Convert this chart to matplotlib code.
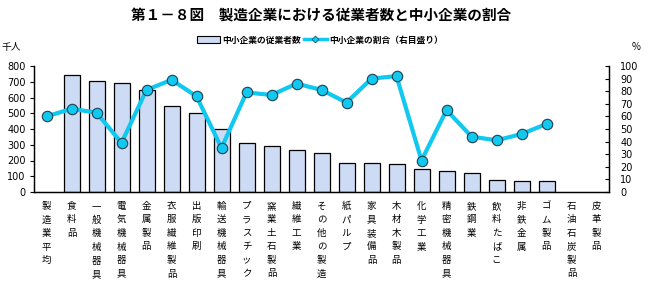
import matplotlib
matplotlib.use("Agg")
import matplotlib.pyplot as plt
from matplotlib.lines import Line2D
from matplotlib.patches import Patch
import numpy as np

plt.rcParams['font.family'] = ['Noto Sans CJK JP', 'DejaVu Sans']

categories = ["製造業平均", "食料品", "一般機械器具", "電気機械器具", "金属製品", "衣服繊維製品",
              "出版印刷", "輸送機械器具", "プラスチック", "窯業土石製品", "繊維工業", "その他の製造",
              "紙パルプ", "家具装備品", "木材木製品", "化学工業", "精密機械器具", "鉄鋼業",
              "飲料たばこ", "非鉄金属", "ゴム製品", "石油石炭製品", "皮革製品"]
employees = [np.nan, 745, 703, 694, 646, 544, 500, 398, 314, 290, 265, 250,
             187, 187, 180, 148, 136, 119, 78, 72, 72, np.nan, np.nan]
sme_share = [60, 66, 63, 39, 81, 89, 76, 35, 79, 77, 86, 81,
             71, 90, 92, 25, 65, 44, 41, 46, 54, np.nan, np.nan]
left_ticks = list(range(0, 801, 100))
right_ticks = list(range(0, 101, 10))

title = "第１－８図　製造企業における従業者数と中小企業の割合"
bar_label = "中小企業の従業者数"
line_label = "中小企業の割合（右目盛り）"

W, H = 645, 287
fig = plt.figure(figsize=(W/100, H/100), dpi=100)
ax = fig.add_axes([34/W, (H-192)/H, (609-34)/W, (192-66)/H])
ax2 = ax.twinx()

x = np.arange(len(categories))
bar_color = '#cedbf4'
line_color = '#10c8f0'
ax.bar(x, employees, width=0.64, color=bar_color, edgecolor='black', linewidth=0.9, zorder=2)
ax2.plot(x, sme_share, color=line_color, linewidth=3, marker='o', markersize=7.5,
         markerfacecolor=line_color, markeredgecolor='#204050', markeredgewidth=0.8, zorder=3)

ax.set_xlim(-0.5, len(categories) - 0.5)
ax.set_ylim(0, 800)
ax2.set_ylim(0, 100)
ax.set_yticks(left_ticks)
ax2.set_yticks(right_ticks)
ax.tick_params(axis='y', direction='out', length=3, width=0.8, labelsize=7, pad=3)
ax2.tick_params(axis='y', direction='in', length=3, width=0.8, labelsize=7, pad=8)
for lab in ax.get_yticklabels() + ax2.get_yticklabels():
    lab.set_family('DejaVu Sans')

ax.set_xticks(x)
ax.set_xticklabels(["\n".join(c) for c in categories], fontsize=6.8, linespacing=1.65,
                   va='top')
ax.tick_params(axis='x', length=0, pad=7)

for a in (ax, ax2):
    a.spines['top'].set_visible(False)
    for s in ('left', 'right', 'bottom'):
        a.spines[s].set_linewidth(0.9)
ax2.set_zorder(ax.get_zorder() + 1)
ax2.patch.set_visible(False)

fig.text(321/W, 1 - 15/H, title, ha='center', va='center', fontsize=10.5, fontweight='bold')
fig.text(1/W, 1 - 47/H, "千人", ha='left', va='center', fontsize=7)
fig.text(636/W, 1 - 47/H, "%", ha='center', va='center', fontsize=7)

handles = [Patch(facecolor=bar_color, edgecolor='black', linewidth=0.8),
           Line2D([0], [0], color=line_color, linewidth=2.5, marker='D', markersize=3.5,
                  markerfacecolor=line_color, markeredgecolor='#204050', markeredgewidth=0.5)]
fig.legend(handles, [bar_label, line_label], loc='center', ncol=2,
           bbox_to_anchor=(320/W, 1 - 40/H), frameon=False,
           prop={'size': 6.3, 'weight': 'bold'}, handlelength=2.6, handleheight=0.7,
           handletextpad=0.3, columnspacing=0.3, borderpad=0)

fig.savefig("out.png", dpi=100)
